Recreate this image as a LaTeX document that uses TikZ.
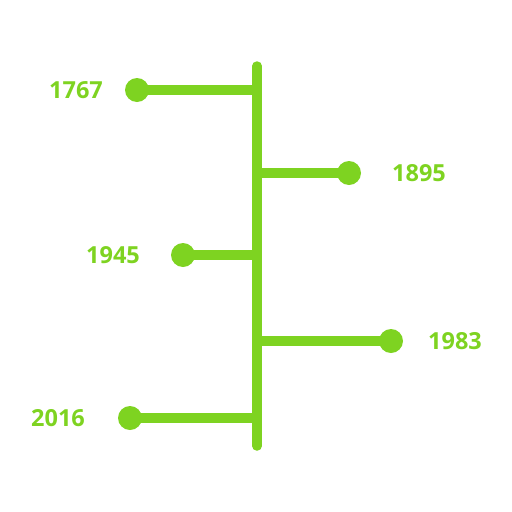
\documentclass[tikz,border=0pt]{standalone}
\usepackage{fontspec}
\setmainfont{Open Sans}
\definecolor{lime}{HTML}{7ED321}
\begin{document}
\begin{tikzpicture}[x=1pt,y=-1pt,
  bar/.style={draw=lime,line width=9.5pt},
  dot/.style={circle,fill=lime,inner sep=0pt,minimum size=24pt},
  yr/.style={text=lime,font=\fontsize{23.5}{26}\selectfont\bfseries,inner sep=0pt}]
\useasboundingbox (0,0) rectangle (512,512);
\coordinate (top) at (257,66);
\coordinate (bot) at (257,446);
\draw[bar,line cap=round] (top) -- (bot);
\coordinate (j1) at (257,90);
\coordinate (j2) at (257,173);
\coordinate (j3) at (257,255);
\coordinate (j4) at (257,341);
\coordinate (j5) at (257,418);
\node[dot] (d1) at (137,90) {};
\node[dot] (d2) at (349,173) {};
\node[dot] (d3) at (183,255) {};
\node[dot] (d4) at (391,341) {};
\node[dot] (d5) at (130,418) {};
\draw[bar] (j1) -- (d1.center);
\draw[bar] (j2) -- (d2.center);
\draw[bar] (j3) -- (d3.center);
\draw[bar] (j4) -- (d4.center);
\draw[bar] (j5) -- (d5.center);
\node[yr] (t1) at (76,90) {1767};
\node[yr] (t2) at (419,173) {1895};
\node[yr] (t3) at (113,255) {1945};
\node[yr] (t4) at (455,341) {1983};
\node[yr] (t5) at (58,418) {2016};
\end{tikzpicture}
\end{document}
